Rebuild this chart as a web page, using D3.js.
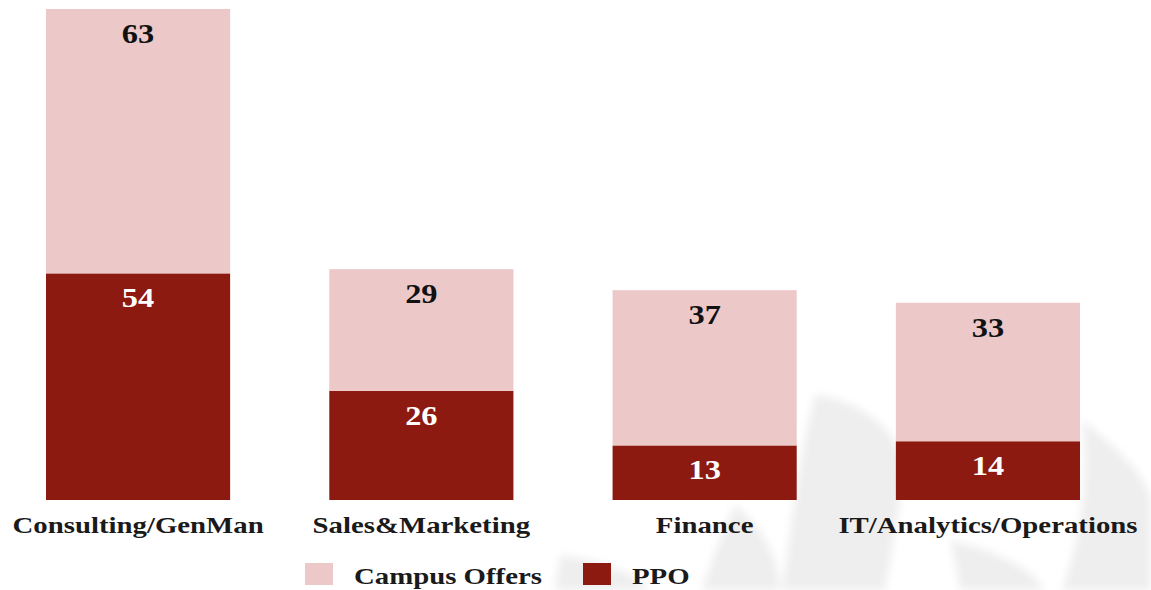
<!DOCTYPE html>
<html>
<head>
<meta charset="utf-8">
<script src="https://cdn.jsdelivr.net/npm/d3@7"></script>
<style>
  html, body { margin: 0; padding: 0; background: #fff; }
  svg { display: block; }
  text { font-family: "Liberation Serif", "Times New Roman", serif; font-weight: bold; }
</style>
</head>
<body>
<div id="chart"></div>
<script>
const categories = ['Consulting/GenMan', 'Sales&Marketing', 'Finance', 'IT/Analytics/Operations']
const ppo = [54, 26, 13, 14]
const campusOffers = [63, 29, 37, 33]
const seriesNames = ['Campus Offers', 'PPO']

const width = 1151
const height = 590
const stretch = 1.2 // source picture is horizontally stretched

const colours = { 'PPO': '#8c1a11', 'Campus Offers': '#ecc9c8' }

let svg = d3.select('#chart').append('svg')
.attr('width', width)
.attr('height', height)

svg.append('defs').append('filter')
.attr('id', 'soft')
.append('feGaussianBlur')
.attr('stdDeviation', 4)

// faint watermark behind the bars
let mark = svg.append('g').attr('fill', '#eeeeee').attr('filter', 'url(#soft)')
const markShapes = [
	'M815,395 C860,400 900,430 905,470 L885,590 L782,590 C792,520 800,450 815,395 Z',
	'M735,505 C768,532 778,562 780,590 L702,590 C712,560 722,532 735,505 Z',
	'M1082,420 C1120,450 1151,480 1151,505 L1151,590 L1062,590 C1080,540 1090,480 1082,420 Z',
	'M950,540 C990,550 1030,565 1045,590 L960,590 C958,575 955,558 950,540 Z',
	'M560,555 C600,560 640,575 650,590 L555,590 Z'
]
mark.selectAll('path').data(markShapes).enter().append('path').attr('d', d => d)

let x = d3.scaleBand()
.domain(categories)
.range([46, 1080])
.paddingInner(0.35)
.paddingOuter(0)

let y = d3.scaleLinear()
.domain([0, 117])
.range([500, 9])

let rows = categories.map((c, i) => ({ category: c, 'PPO': ppo[i], 'Campus Offers': campusOffers[i] }))
let stack = d3.stack().keys(['PPO', 'Campus Offers'])(rows)

let layers = svg.append('g').selectAll('g')
.data(stack)
.enter()
.append('g')
.attr('fill', d => colours[d.key])

layers.selectAll('rect')
.data(d => d)
.enter()
.append('rect')
.attr('x', d => x(d.data.category))
.attr('width', x.bandwidth())
.attr('y', d => y(d[1]))
.attr('height', d => y(d[0]) - y(d[1]))

// value labels near the top of each segment
stack.forEach(layer => {
	svg.append('g').selectAll('text')
	.data(layer)
	.enter()
	.append('text')
	.attr('text-anchor', 'middle')
	.attr('font-size', 27)
	.attr('fill', layer.key === 'PPO' ? '#ffffff' : '#111111')
	.attr('transform', d => `translate(${x(d.data.category) + x.bandwidth() / 2},${y(d[1]) + 34}) scale(${stretch},1)`)
	.text(d => d[1] - d[0])
})

// category labels
svg.append('g').selectAll('text')
.data(categories)
.enter()
.append('text')
.attr('text-anchor', 'middle')
.attr('font-size', 24)
.attr('fill', '#1a1a1a')
.attr('transform', d => `translate(${x(d) + x.bandwidth() / 2},533) scale(${stretch},1)`)
.text(d => d)

// legend
let legendX = [305, 583]
let legend = svg.append('g').selectAll('g')
.data(seriesNames)
.enter()
.append('g')
.attr('transform', (d, i) => `translate(${legendX[i]},563)`)

legend.append('rect')
.attr('width', 28)
.attr('height', 22)
.attr('fill', d => colours[d])

legend.append('text')
.attr('font-size', 24)
.attr('fill', '#1a1a1a')
.attr('transform', `translate(49,21) scale(${stretch},1)`)
.text(d => d)
</script>
</body>
</html>
